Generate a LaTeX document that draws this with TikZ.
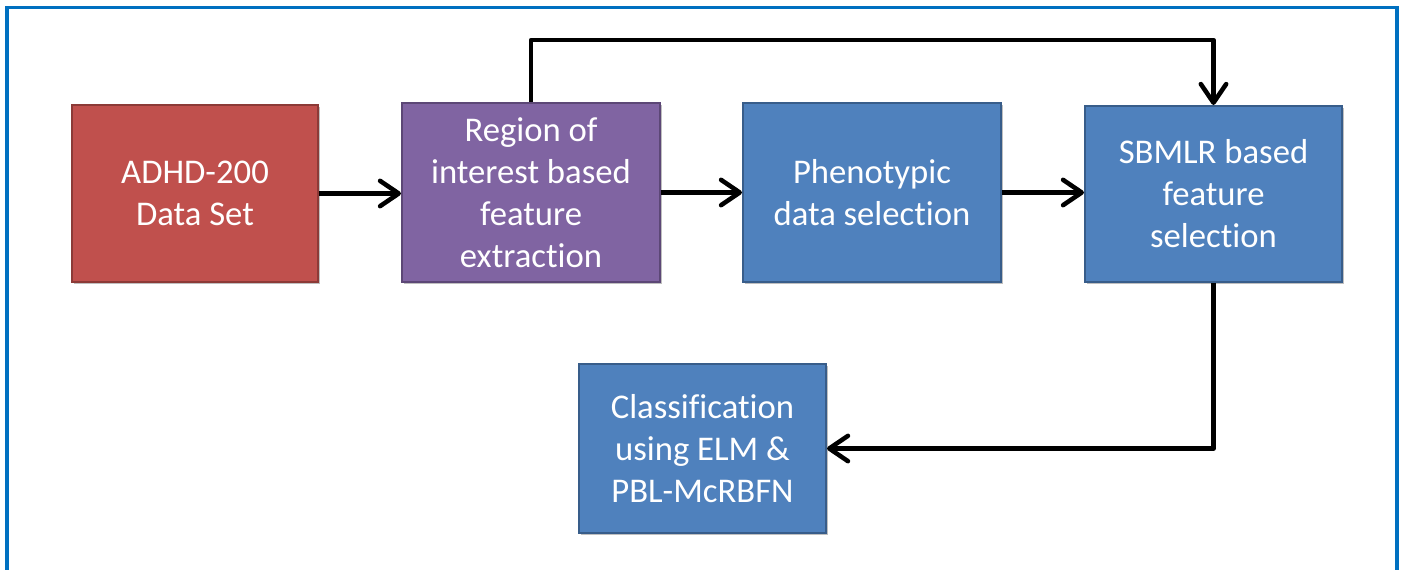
\documentclass[tikz,border=0pt]{standalone}
\usepackage{fontspec}
\setmainfont[Ligatures={NoCommon}]{Carlito}
\usetikzlibrary{arrows.meta,shadows}

\definecolor{frameblue}{HTML}{0070C0}
\definecolor{redfill}{HTML}{C0504D}
\definecolor{redline}{HTML}{8C3A37}
\definecolor{purplefill}{HTML}{8064A2}
\definecolor{purpleline}{HTML}{5C4776}
\definecolor{bluefill}{HTML}{4F81BD}
\definecolor{blueline}{HTML}{385D8A}

\tikzset{
  block/.style={rectangle, line width=1.5pt, text=white, align=center,
    font=\fontsize{26}{31.5}\selectfont, inner sep=0pt,
    drop shadow={shadow xshift=1.5pt, shadow yshift=-1.5pt, opacity=0.25, fill=black}},
  redblock/.style={block, fill=redfill, draw=redline},
  purpleblock/.style={block, fill=purplefill, draw=purpleline},
  blueblock/.style={block, fill=bluefill, draw=blueline},
  arr/.style={line width=3.4pt, black, line join=round,
    -{Straight Barb[round,length=14pt,width=19pt,line width=3.4pt]}},
}

\begin{document}
\begin{tikzpicture}[x=0.75pt, y=-0.75pt]
  \useasboundingbox (0,0) rectangle (1403,569);
  \begin{scope}
    \clip (0,0) rectangle (1403,569);
    \draw[frameblue, line width=2.4pt] (7,7.5) rectangle (1397,650);
  \end{scope}

  % processing blocks
  \node[redblock, minimum width=184.5pt, minimum height=132.75pt]
    (adhd) at (195,193.5) {ADHD-200\\Data Set};
  \node[purpleblock, minimum width=193.5pt, minimum height=134.25pt]
    (roi) at (531,192.5) {Region of\\interest based\\feature\\extraction};
  \node[blueblock, minimum width=193.5pt, minimum height=134.25pt]
    (pheno) at (872,192.5) {Phenotypic\\data selection};
  \node[blueblock, minimum width=192.75pt, minimum height=132pt]
    (sbmlr) at (1213.5,194) {SBMLR based\\feature\\selection};
  \node[blueblock, minimum width=185.25pt, minimum height=126.75pt]
    (cls) at (702.5,448.5) {Classification\\using ELM \&\\PBL-McRBFN};

  \coordinate (bypass) at (0,40);

  % connectors
  \draw[arr] (adhd.east) -- (roi.west |- adhd.east);
  \draw[arr] (roi.east) -- (pheno.west);
  \draw[arr] (pheno.east) -- (sbmlr.west |- pheno.east);
  \draw[arr] (roi.north) |- (sbmlr.north |- bypass) -- (sbmlr.north);
  \draw[arr] (sbmlr.south) |- (cls.east);
\end{tikzpicture}
\end{document}
